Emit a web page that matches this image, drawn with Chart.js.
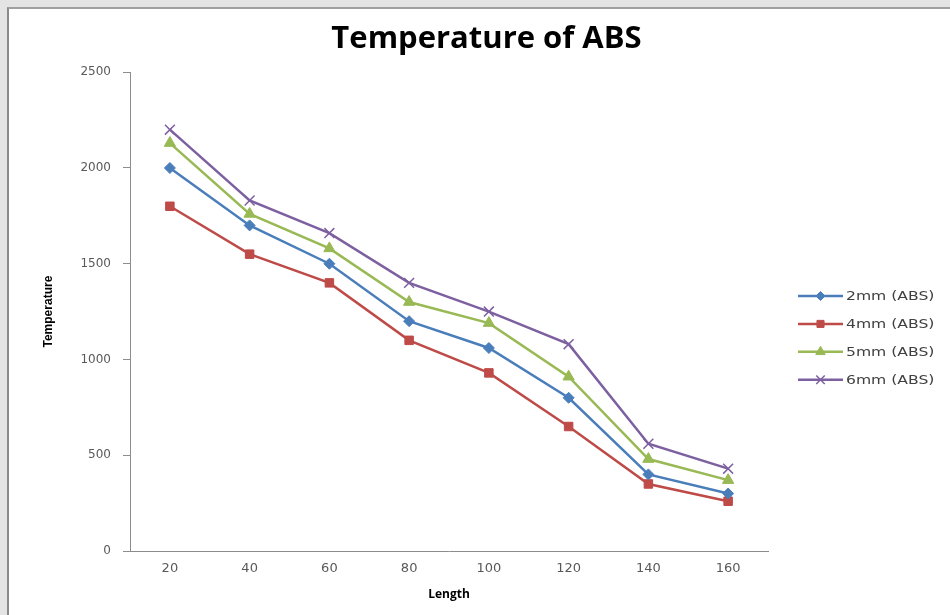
<!DOCTYPE html>
<html>
<head>
<meta charset="utf-8">
<script src="https://cdn.jsdelivr.net/npm/chart.js@4/dist/chart.umd.min.js"></script>
<style>
  html, body { margin: 0; padding: 0; background: #e4e4e4; }
  #frame {
    position: absolute; left: 7px; top: 7px;
    width: 943px; height: 608px;
    background: #fff;
    border-left: 2px solid #8a8a8a; border-top: 2px solid #a0a0a0;
  }
  #chart { display: block; }
</style>
</head>
<body>
<div id="frame"><canvas id="chart" width="941" height="606"></canvas></div>
<script>
// Data
const lengths = ['20', '40', '60', '80', '100', '120', '140', '160'];
const seriesNames = ['2mm (ABS)', '4mm (ABS)', '5mm (ABS)', '6mm (ABS)'];
const temp2mm = [2000, 1700, 1500, 1200, 1060, 800, 400, 300];
const temp4mm = [1800, 1550, 1400, 1100, 930, 650, 350, 260];
const temp5mm = [2130, 1760, 1580, 1300, 1190, 910, 480, 370];
const temp6mm = [2200, 1830, 1660, 1400, 1250, 1080, 560, 430];

const colors = ['#4a7ebb', '#be4b48', '#98b954', '#7d60a0'];
const markers = ['rectRot', 'rect', 'triangle', 'crossRot'];
const radii = [5.5, 6, 6.5, 7];

const allData = [temp2mm, temp4mm, temp5mm, temp6mm];

const datasets = allData.map((d, i) => ({
  label: seriesNames[i],
  data: d,
  borderColor: colors[i],
  backgroundColor: colors[i],
  borderWidth: 2.5,
  pointStyle: markers[i],
  pointRadius: radii[i],
  pointBorderWidth: i === 3 ? 1.5 : 1,
  pointBorderColor: colors[i],
  pointBackgroundColor: colors[i],
  tension: 0
}));

// legend on the right: line with the marker in the middle
const sideLegend = {
  id: 'sideLegend',
  afterDraw(chart) {
    const ctx = chart.ctx;
    const x0 = 789, x1 = 834, tx = 837;
    const y0 = 287, gap = 27.9;
    ctx.save();
    chart.data.datasets.forEach((ds, i) => {
      const y = y0 + i * gap;
      ctx.strokeStyle = ds.borderColor;
      ctx.fillStyle = ds.backgroundColor;
      ctx.lineWidth = 2.5;
      ctx.beginPath();
      ctx.moveTo(x0, y);
      ctx.lineTo(x1, y);
      ctx.stroke();
      ctx.lineWidth = ds.pointBorderWidth;
      Chart.helpers.drawPoint(ctx, {
        pointStyle: ds.pointStyle,
        radius: ds.pointRadius - 1,
        borderWidth: ds.pointBorderWidth,
        rotation: 0
      }, (x0 + x1) / 2, y);
      // text is a bit stretched sideways, like the reference
      ctx.save();
      ctx.translate(tx, y + 1);
      ctx.scale(1.2, 1);
      ctx.fillStyle = '#404040';
      ctx.font = '13px "DejaVu Sans"';
      ctx.textBaseline = 'middle';
      ctx.textAlign = 'left';
      ctx.fillText(ds.label, 0, 0);
      ctx.restore();
    });
    ctx.restore();
  }
};

new Chart(document.getElementById('chart'), {
  type: 'line',
  data: { labels: lengths, datasets: datasets },
  plugins: [sideLegend],
  options: {
    responsive: false,
    animation: false,
    layout: { padding: { left: 14, top: 0, right: 0, bottom: 0 } },
    plugins: {
      legend: { display: false },
      tooltip: { enabled: false },
      title: {
        display: true,
        text: 'Temperature of ABS',
        color: '#000',
        font: { family: '"Open Sans"', size: 31, weight: 'bold' },
        padding: { top: 12, bottom: 14 }
      }
    },
    scales: {
      x: {
        offset: true,
        grid: { display: false, drawTicks: false },
        border: { display: true, color: '#8c8c8c', width: 1 },
        ticks: {
          color: '#595959',
          font: { family: '"DejaVu Sans"', size: 13 },
          padding: 10,
          maxRotation: 0
        },
        title: {
          display: true,
          text: 'Length',
          color: '#000',
          font: { family: '"Open Sans"', size: 12, weight: 'bold' },
          padding: { top: 4, bottom: 13 }
        },
        afterFit(scale) { scale.height = 64; }
      },
      y: {
        min: 0,
        max: 2500,
        grid: { drawOnChartArea: false, drawTicks: true, tickLength: 7, color: '#8c8c8c' },
        border: { display: true, color: '#8c8c8c', width: 1 },
        ticks: {
          stepSize: 500,
          color: '#595959',
          font: { family: '"DejaVu Sans"', size: 12 },
          padding: 12,
          callback: (v) => String(v)
        },
        title: {
          display: true,
          text: 'Temperature',
          color: '#000',
          font: { family: '"Liberation Sans Narrow", "Liberation Sans"', size: 12, weight: 'bold' },
          padding: { top: 18, bottom: 0 }
        },
        afterFit(scale) { scale.width = 107; }
      },
      // empty box on the right that keeps room for the legend
      yRight: {
        position: 'right',
        display: true,
        grid: { display: false, drawTicks: false },
        border: { display: false },
        ticks: { display: false },
        afterFit(scale) { scale.width = 182; }
      }
    }
  }
});
</script>
</body>
</html>
